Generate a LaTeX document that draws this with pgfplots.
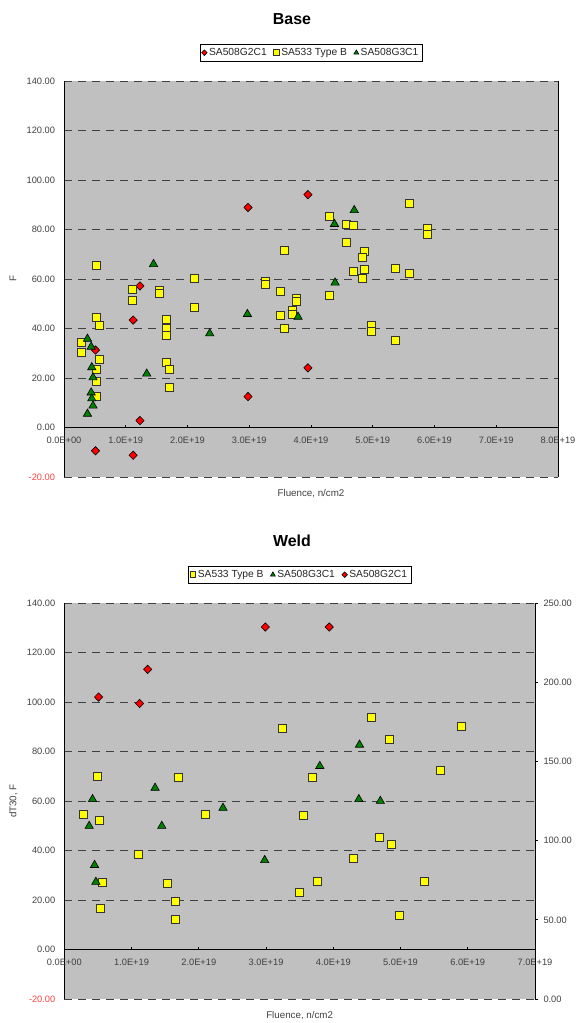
\documentclass[border=0pt]{standalone}
\usepackage{fontspec}
\setmainfont{Liberation Sans}
\usepackage{pgfplots}
\pgfplotsset{compat=1.18}
\definecolor{plotbg}{RGB}{192,192,192}
\definecolor{txtgray}{RGB}{64,64,64}
\definecolor{negred}{RGB}{255,64,64}
\definecolor{mkgreen}{RGB}{0,128,0}
\definecolor{mkyellow}{RGB}{255,255,0}
\pgfplotsset{
  common/.style={
    scale only axis,
    clip=false,
    axis background/.style={fill=plotbg},
    axis x line=middle,
    axis y line=left,
    x axis line style={-, black, line width=1bp},
    y axis line style={-, black, line width=1bp},
    ymin=-20, ymax=140, ytick={-20,0,...,140},
    yticklabels={\textcolor{negred}{-20.00},0.00,20.00,40.00,60.00,80.00,100.00,120.00,140.00},
    ymajorgrids,
    grid style={dash pattern=on 8bp off 6bp, line width=1bp, black!75},
    ytick style={draw=none},
    xtick style={black, line width=0.8bp},
    major tick length=3bp,
    xtick align=inside,
    hide obscured x ticks=false,
    xmin=0,
    ticklabel style={font=\fontsize{9.3}{10}\selectfont, text=txtgray},
    yticklabel style={anchor=east, xshift=-4bp},
    xticklabel style={anchor=north, yshift=-6bp},
    label style={font=\fontsize{9.8}{11}\selectfont, text=txtgray},
    legend columns=3,
    legend style={at={(0.5,1)}, anchor=south, yshift=20bp, draw=black, fill=white,
      font=\fontsize{10.3}{12}\selectfont, text=black!85, inner sep=1.8bp,
      /tikz/every even column/.append style={column sep=5bp}},
    legend image post style={mark size=2.8bp},
  },
  g2/.style={only marks, mark=diamond*, mark size=4.2bp, mark options={fill=red, draw=black, line width=0.6bp, xscale=1.3}},
  ty/.style={only marks, mark=square*, mark size=4bp, mark options={fill=mkyellow, draw=black!80, line width=0.9bp}},
  g3/.style={only marks, mark=triangle*, mark size=4.8bp, mark options={fill=mkgreen, draw=black, line width=0.6bp}},
}
\begin{document}
\begin{tikzpicture}
\path[use as bounding box] (0,0) rectangle (576bp,-1023bp);
\node[font=\bfseries\fontsize{16}{18}\selectfont] at (292bp,-19bp) {Base};
\begin{axis}[common,
  at={(64bp,-81bp)}, anchor=north west, width=494bp, height=396bp,
  xmax=8, xtick={0,...,8},
  xticklabels={0.0E+00,1.0E+19,2.0E+19,3.0E+19,4.0E+19,5.0E+19,6.0E+19,7.0E+19,8.0E+19},
  xlabel={Fluence, n/cm2}, ylabel={F},
  xlabel style={at={(axis description cs:0.5,0)}, anchor=north, yshift=-9bp},
  ylabel style={at={(axis description cs:-0.103,0.5)}, anchor=center, rotate=0},
]
\addplot[g2] coordinates {
(0.51,31.3) (1.23,57.2) (1.12,43.4) (1.23,2.8) (0.51,-9.4) (1.12,-11.2)
(2.98,88.9) (2.98,12.5) (3.95,94.1) (3.95,24.1)};
\addlegendentry{SA508G2C1}
\addplot[ty] coordinates {
(0.52,65.5) (1.11,55.8) (1.11,51.3) (1.54,55.2) (1.54,54.3) (2.11,60.2) (2.11,48.4)
(0.52,44.3) (0.58,41.4) (1.66,43.8) (1.66,39.9) (1.66,37.3) (0.28,34.2) (0.28,30.3)
(0.58,27.6) (0.53,23.6) (0.53,18.7) (0.52,12.7) (1.66,26.1) (1.70,23.6) (1.70,16.2)
(5.59,90.7) (4.30,85.1) (4.58,82.2) (4.69,81.8) (5.89,80.3) (5.89,78.0) (4.58,74.7)
(3.57,71.4) (4.86,71.0) (4.83,68.7) (5.36,64.4) (4.69,62.9) (4.86,64.0) (5.59,62.1)
(4.83,60.4) (3.26,59.0) (3.26,57.9) (3.50,55.1) (3.76,52.3) (3.76,50.9) (4.30,53.5)
(3.50,45.4) (3.70,47.1) (3.70,45.8) (3.57,39.9) (4.98,41.1) (4.98,38.8) (5.36,35.0)};
\addlegendentry{SA533 Type B}
\addplot[g3] coordinates {
(1.45,66.0) (2.36,38.0) (0.38,35.8) (0.44,32.6) (0.45,24.3) (0.47,20.2) (1.34,21.7)
(0.44,14.1) (0.45,11.7) (0.47,8.8) (0.38,5.5) (4.70,87.8) (4.38,82.2) (2.97,45.8)
(3.79,44.7) (4.39,58.5)};
\addlegendentry{SA508G3C1}
\draw[black, line width=1bp] (rel axis cs:1,0) -- (rel axis cs:1,1);
\end{axis}

\node[font=\bfseries\fontsize{16}{18}\selectfont] at (292bp,-541bp) {Weld};
\begin{axis}[common,
  at={(64.3bp,-603bp)}, anchor=north west, width=470.7bp, height=396bp,
  xmax=7, xtick={0,...,7},
  xticklabels={0.0E+00,1.0E+19,2.0E+19,3.0E+19,4.0E+19,5.0E+19,6.0E+19,7.0E+19},
  xlabel={Fluence, n/cm2}, ylabel={dT30, F},
  xlabel style={at={(axis description cs:0.5,0)}, anchor=north, yshift=-9bp},
  ylabel style={at={(axis description cs:-0.108,0.5)}, anchor=center},
]
\addplot[ty] coordinates {
(0.50,70.0) (1.70,69.6) (3.24,89.3) (4.57,93.7) (5.90,90.3) (4.83,84.8) (5.59,72.3)
(3.69,69.6) (0.28,54.4) (0.52,52.1) (2.10,54.4) (1.11,38.4) (0.57,26.9) (1.53,26.5)
(1.66,19.5) (0.54,16.6) (1.66,12.1) (3.50,22.9) (3.56,54.0) (4.68,45.1) (4.86,42.5)
(4.30,36.6) (3.77,27.3) (5.35,27.6) (4.99,13.6)};
\addlegendentry{SA533 Type B}
\addplot[g3] coordinates {
(0.42,60.7) (1.35,65.3) (2.36,57.2) (0.37,49.9) (1.45,49.9) (0.45,34.1) (0.47,27.3)
(2.98,36.1) (3.80,74.1) (4.39,82.7) (4.38,60.7) (4.70,60.0)};
\addlegendentry{SA508G3C1}
\addplot[g2] coordinates {
(0.51,102.0) (1.12,99.4) (1.24,113.2) (2.99,130.3) (3.94,130.3)};
\addlegendentry{SA508G2C1}
\draw[black, line width=1bp] (rel axis cs:1,0) -- (rel axis cs:1,1);
\end{axis}
\begin{axis}[
  scale only axis,
  at={(64.3bp,-603bp)}, anchor=north west, width=470.7bp, height=396bp,
  xmin=0, xmax=7, ymin=0, ymax=250,
  axis x line=none, axis y line*=right,
  y axis line style={-, black, line width=1bp},
  ytick={0,50,...,250},
  yticklabels={0.00,50.00,100.00,150.00,200.00,250.00},
  ytick align=outside, major tick length=3bp,
  ytick style={black, line width=0.8bp},
  ticklabel style={font=\fontsize{9.3}{10}\selectfont, text=txtgray},
  yticklabel style={anchor=west, xshift=2bp},
]
\addplot[draw=none] coordinates {(0,0)};
\end{axis}
\end{tikzpicture}
\end{document}
